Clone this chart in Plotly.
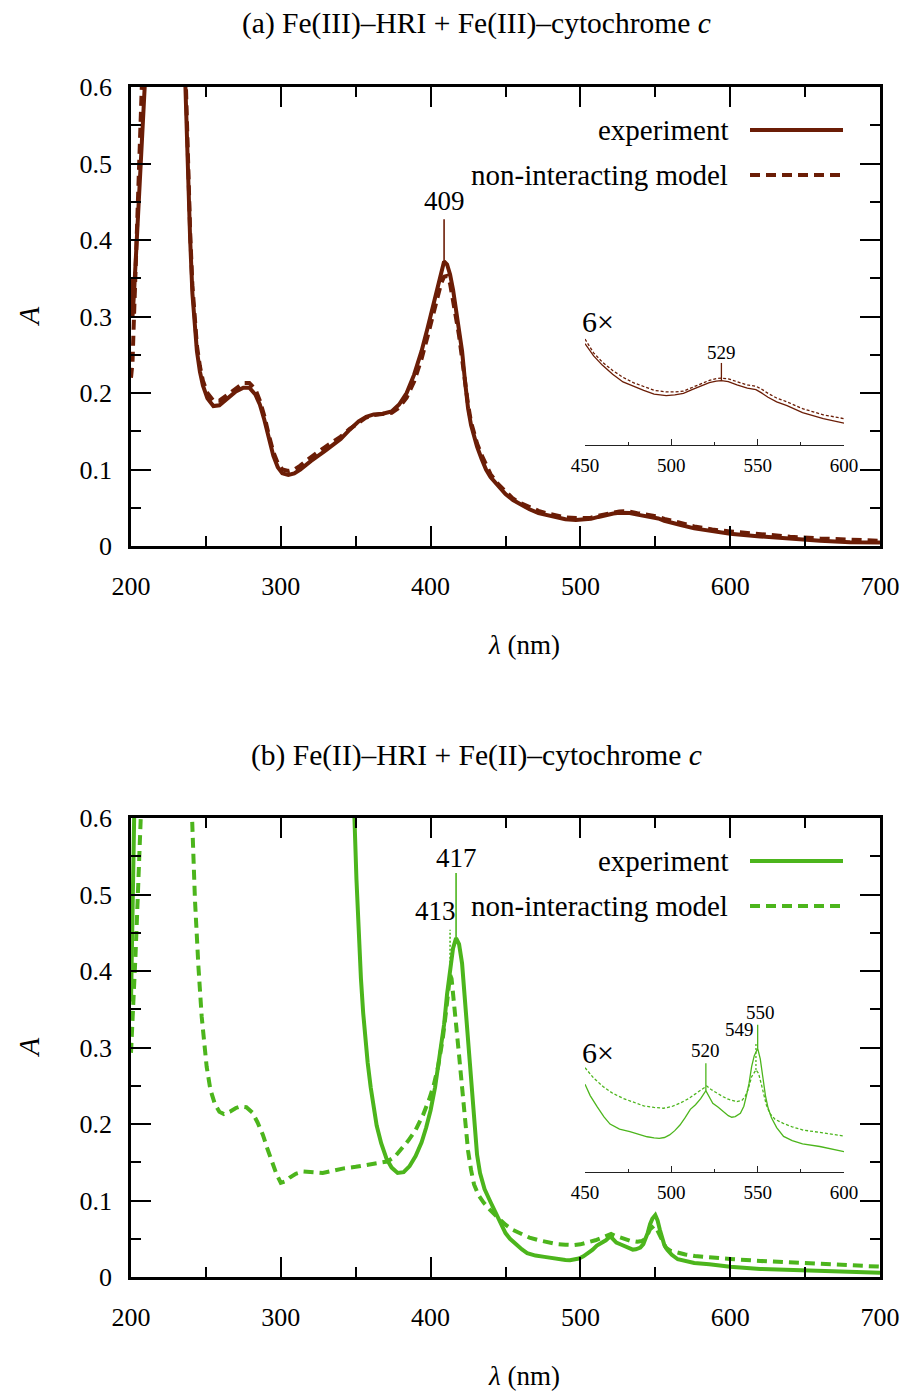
import numpy as np
import plotly.graph_objects as go

W, H = 902, 1391

# ---------------- panel (a): Fe(III) ----------------
wl_a = [200, 201, 202, 203, 204, 205, 206, 207, 208, 210, 215, 220, 225, 230, 234,
        236, 237, 238, 239.5, 241, 242.5, 244, 246, 248, 251, 255, 259, 264, 270,
        275, 279, 283, 286, 289, 292, 295, 298, 301, 305, 309, 313, 320, 330, 340,
        346, 352, 357, 362, 368, 374, 379, 384, 389, 394, 398, 402, 405, 407, 409,
        411, 413, 415, 417, 419, 421, 423, 425, 427, 429, 431, 434, 437, 440, 445,
        450, 455, 460, 466, 472, 478, 484, 490, 497, 502, 507, 512, 517, 522, 526,
        529, 533, 538, 544, 549, 552, 556, 561, 567, 576, 588, 600, 620, 640, 660,
        680, 700]
exp_a = [0.35, 0.30, 0.33, 0.38, 0.43, 0.48, 0.53, 0.58, 0.63, 0.75, 1.0, 1.2, 1.2, 1.0, 0.75,
         0.61, 0.54, 0.47, 0.40, 0.33, 0.285, 0.255, 0.228, 0.21, 0.193, 0.183, 0.184, 0.192, 0.202,
         0.207, 0.207, 0.198, 0.185, 0.165, 0.14, 0.118, 0.103, 0.095, 0.093, 0.095, 0.1, 0.111, 0.125, 0.14,
         0.152, 0.163, 0.169, 0.172, 0.173, 0.176, 0.185, 0.2, 0.224, 0.255, 0.285, 0.318, 0.343, 0.36, 0.372,
         0.368, 0.355, 0.335, 0.31, 0.285, 0.255, 0.215, 0.18, 0.158, 0.142, 0.13, 0.114, 0.1, 0.09, 0.078,
         0.068, 0.06, 0.054, 0.048, 0.043, 0.04, 0.0375, 0.035, 0.034, 0.0345, 0.0355, 0.038, 0.0405, 0.0425, 0.0435,
         0.0438, 0.0432, 0.041, 0.039, 0.038, 0.036, 0.033, 0.03, 0.0275, 0.023, 0.019, 0.016, 0.0125, 0.0095, 0.0068,
         0.005, 0.0045]
mod_a = [0.22, 0.24, 0.30, 0.36, 0.42, 0.48, 0.54, 0.60, 0.66, 0.78, 1.05, 1.25, 1.25, 1.05, 0.78,
         0.63, 0.555, 0.485, 0.41, 0.34, 0.292, 0.262, 0.235, 0.216, 0.2, 0.19, 0.19, 0.197, 0.207,
         0.213, 0.213, 0.205, 0.19, 0.17, 0.145, 0.123, 0.108, 0.1, 0.098, 0.1, 0.105, 0.116, 0.13, 0.143,
         0.153, 0.162, 0.168, 0.171, 0.172, 0.174, 0.181, 0.194, 0.215, 0.245, 0.274, 0.306, 0.329, 0.343, 0.352,
         0.353, 0.343, 0.322, 0.3, 0.275, 0.245, 0.212, 0.185, 0.162, 0.146, 0.134, 0.119, 0.105, 0.094, 0.081,
         0.071, 0.062, 0.056, 0.0505, 0.046, 0.0425, 0.04, 0.0375, 0.0365, 0.0365, 0.037, 0.0395, 0.042, 0.044, 0.0452,
         0.0455, 0.045, 0.043, 0.041, 0.0402, 0.0385, 0.0355, 0.0325, 0.03, 0.0255, 0.0215, 0.019, 0.0152, 0.0122, 0.0098,
         0.0078, 0.0068]

# ---------------- panel (b): Fe(II) ----------------
wl_b_exp = [200, 201, 202, 203, 210, 250, 300, 330, 340, 346, 349, 350.5, 352, 353.5, 355, 356.5,
            358, 360, 362, 364, 367, 370.5, 374, 378, 382, 386, 390, 394, 397, 400, 403, 406,
            409, 411, 413, 415, 417, 419, 421, 423, 425, 427, 429, 431, 433, 436, 440, 443,
            446, 450, 453, 457, 461, 464.5, 470, 476, 481, 486, 490, 493, 496, 499, 502, 505,
            508, 511, 514, 517, 520, 522, 524, 527, 530, 533, 535, 537, 540, 542, 543.5, 545,
            546.5, 548, 550, 551.5, 553, 554.5, 556, 558, 561, 565, 570, 576, 586, 600, 620,
            640, 660, 680, 700]
exp_b = [0.36, 0.52, 0.7, 0.9, 1.5, 2.0, 1.6, 1.0, 0.8, 0.68, 0.61, 0.52, 0.45, 0.39, 0.345, 0.31,
         0.28, 0.248, 0.222, 0.198, 0.175, 0.155, 0.143, 0.136, 0.137, 0.145, 0.158, 0.176, 0.195, 0.218, 0.248, 0.285,
         0.33, 0.37, 0.405, 0.43, 0.443, 0.435, 0.41, 0.36, 0.3, 0.245, 0.198, 0.16, 0.136, 0.115, 0.098, 0.085,
         0.072, 0.0574, 0.05, 0.0427, 0.036, 0.0313, 0.028, 0.0263, 0.0245, 0.023, 0.0222, 0.022, 0.0225, 0.0242, 0.027, 0.0307,
         0.0355, 0.041, 0.044, 0.048, 0.0532, 0.049, 0.045, 0.0425, 0.0398, 0.0368, 0.0358, 0.0362, 0.0384, 0.043, 0.05, 0.058,
         0.069, 0.076, 0.081, 0.074, 0.062, 0.05, 0.042, 0.0355, 0.029, 0.0232, 0.0205, 0.0184, 0.0166, 0.0133, 0.0105,
         0.009, 0.0075, 0.0065, 0.0057]

wl_b_mod = [200, 201, 202, 203, 204, 205, 206, 207, 208, 212, 220, 230, 237, 240.5, 242.7, 245,
            247.2, 250.5, 253, 256, 259, 262, 266, 270, 273, 277, 281, 284.5, 288, 291, 294, 297,
            300, 303, 306, 310, 315, 320, 328, 335, 342, 350, 357, 364, 371, 376, 380, 385,
            390, 395, 399, 402, 405, 408, 410.5, 412, 413, 414, 415.5, 417, 419, 421, 423, 425,
            427, 429, 432, 435.5, 440, 444, 448, 450, 455, 460.6, 466, 472, 478, 484, 490, 495.6,
            500, 505, 510, 514.7, 518, 520.5, 523, 526.3, 530, 533, 538, 541, 542.7, 544.5, 546.5,
            549, 550.5, 552, 553.3, 555, 557, 560, 564.8, 570, 576.4, 588, 600, 620, 640, 660,
            680, 700]
mod_b = [0.293, 0.33, 0.37, 0.42, 0.47, 0.52, 0.56, 0.6, 0.65, 0.9, 1.3, 1.2, 0.8, 0.6, 0.493, 0.406,
         0.34, 0.275, 0.245, 0.226, 0.216, 0.213, 0.216, 0.221, 0.223, 0.222, 0.215, 0.202, 0.186, 0.168, 0.151, 0.135,
         0.123, 0.125, 0.13, 0.135, 0.138, 0.137, 0.136, 0.139, 0.142, 0.144, 0.146, 0.148, 0.151, 0.157, 0.166, 0.178,
         0.192, 0.212, 0.232, 0.25, 0.275, 0.31, 0.35, 0.385, 0.395, 0.39, 0.365, 0.33, 0.29, 0.245, 0.2, 0.165,
         0.14, 0.121, 0.107, 0.097, 0.087, 0.079, 0.072, 0.0683, 0.0615, 0.0558, 0.0515, 0.0482, 0.0455, 0.0432, 0.0422, 0.0417,
         0.0427, 0.045, 0.048, 0.0515, 0.0545, 0.0563, 0.054, 0.0515, 0.0492, 0.0476, 0.046, 0.047, 0.0493, 0.054, 0.0624,
         0.0668, 0.0646, 0.058, 0.0515, 0.044, 0.0384, 0.0345, 0.0318, 0.0295, 0.0274, 0.0253, 0.0235, 0.021, 0.019, 0.017,
         0.015, 0.0135]

# tick values
x_ticks = [200, 300, 400, 500, 600, 700]
y_ticks = [0, 0.1, 0.2, 0.3, 0.4, 0.5, 0.6]
inset_ticks = [450, 500, 550, 600]

BROWN = "#6b1d06"
GREEN = "#4cb51c"
FONT = "Liberation Serif"
TEXT_SIZE = 29


def fx(px):
    return px / W


def fy(py):
    return 1 - py / H


def inset_range(bottom_px, top_px, a_ref, px_ref, px_per_unit):
    lo = a_ref - (bottom_px - px_ref) / px_per_unit
    hi = a_ref + (px_ref - top_px) / px_per_unit
    return [lo, hi]


def window(wl, a, lo=450, hi=600):
    wl = np.asarray(wl, float)
    a = np.asarray(a, float)
    m = (wl >= lo) & (wl <= hi)
    return wl[m], a[m]


def label(text, x, y, size=TEXT_SIZE, **kw):
    d = dict(text=text, x=fx(x), y=fy(y), xref="paper", yref="paper", showarrow=False,
             xanchor="center", yanchor="middle", font=dict(size=size))
    d.update(kw)
    return d


fig = go.Figure()

panels = [
    dict(key="", wl_e=wl_a, e=exp_a, wl_m=wl_a, m=mod_a, color=BROWN,
         top=87, bot=546, ins_key="3", ins_bot=445, ins_top=330,
         ins_ref=(0.0438, 380.7, 1530)),
    dict(key="2", wl_e=wl_b_exp, e=exp_b, wl_m=wl_b_mod, m=mod_b, color=GREEN,
         top=818, bot=1277, ins_key="4", ins_bot=1172, ins_top=1000,
         ins_ref=(0.081, 1048.3, 1525)),
]

for p in panels:
    xa, ya = "x" + p["key"], "y" + p["key"]
    fig.add_trace(go.Scatter(x=p["wl_m"], y=p["m"], mode="lines", xaxis=xa, yaxis=ya,
                             line=dict(color=p["color"], width=4, dash="10px,6px"),
                             showlegend=False, hoverinfo="skip"))
    fig.add_trace(go.Scatter(x=p["wl_e"], y=p["e"], mode="lines", xaxis=xa, yaxis=ya,
                             line=dict(color=p["color"], width=4),
                             showlegend=False, hoverinfo="skip"))
    xi, yi = "x" + p["ins_key"], "y" + p["ins_key"]
    wm, am = window(p["wl_m"], p["m"])
    we, ae = window(p["wl_e"], p["e"])
    fig.add_trace(go.Scatter(x=wm, y=am, mode="lines", xaxis=xi, yaxis=yi,
                             line=dict(color=p["color"], width=1.3, dash="3px,2px"),
                             showlegend=False, hoverinfo="skip"))
    fig.add_trace(go.Scatter(x=we, y=ae, mode="lines", xaxis=xi, yaxis=yi,
                             line=dict(color=p["color"], width=1.3),
                             showlegend=False, hoverinfo="skip"))

main_x = dict(range=[200, 700], tickvals=x_ticks, ticks="inside", ticklen=20, tickwidth=2,
              tickcolor="black", showline=True, linewidth=2.5, linecolor="black", mirror="ticks",
              minor=dict(dtick=50, tick0=0, ticks="inside", ticklen=10, tickwidth=2, tickcolor="black"),
              showgrid=False, zeroline=False, tickfont=dict(family=FONT, size=26, color="black"),
              ticklabelstandoff=15, automargin=False, fixedrange=True)
main_y = dict(range=[0, 0.6], tickvals=y_ticks, ticktext=["0", "0.1", "0.2", "0.3", "0.4", "0.5", "0.6"],
              ticks="inside", ticklen=20, tickwidth=2,
              tickcolor="black", showline=True, linewidth=2.5, linecolor="black", mirror="ticks",
              minor=dict(dtick=0.05, tick0=0, ticks="inside", ticklen=10, tickwidth=2, tickcolor="black"),
              showgrid=False, zeroline=False, tickfont=dict(family=FONT, size=26, color="black"),
              ticklabelstandoff=11, automargin=False, fixedrange=True)
inset_x = dict(range=[450, 600], tickvals=inset_ticks, ticks="inside", ticklen=6, tickwidth=1.3,
               tickcolor="#222", showline=True, linewidth=1.3, linecolor="#222",
               minor=dict(dtick=25, tick0=0, ticks="inside", ticklen=3, tickwidth=1.3, tickcolor="#222"),
               showgrid=False, zeroline=False, tickfont=dict(family=FONT, size=19, color="black"),
               ticklabelstandoff=3, automargin=False, fixedrange=True)

layout = dict(width=W, height=H, margin=dict(l=0, r=0, t=0, b=0), autosize=False,
              paper_bgcolor="white", plot_bgcolor="rgba(0,0,0,0)", template="none",
              font=dict(family=FONT, size=TEXT_SIZE, color="black"), showlegend=False)

shapes = []
annotations = []

for p in panels:
    k, ki = p["key"], p["ins_key"]
    layout["xaxis" + k] = dict(main_x, domain=[fx(131), fx(880)], anchor="y" + k)
    layout["yaxis" + k] = dict(main_y, domain=[fy(p["bot"]), fy(p["top"])], anchor="x" + k)
    layout["xaxis" + ki] = dict(inset_x, domain=[fx(585), fx(844)], anchor="y" + ki)
    layout["yaxis" + ki] = dict(domain=[fy(p["ins_bot"]), fy(p["ins_top"])], anchor="x" + ki,
                                range=inset_range(p["ins_bot"], p["ins_top"], *p["ins_ref"]),
                                visible=False, fixedrange=True)

    # axis titles
    mid_y = (p["top"] + p["bot"]) / 2
    annotations.append(label("<i>A</i>", 28, mid_y, textangle=-90))
    annotations.append(label("<i>λ</i> (nm)", 524, p["bot"] + 99, size=27))
    # legend
    for name, ly, dash in [("experiment", p["top"] + 43, "solid"),
                           ("non-interacting model", p["top"] + 88, "10px,6px")]:
        annotations.append(label(name, 730, ly, xanchor="right"))
        shapes.append(dict(type="line", xref="paper", yref="paper", x0=fx(750), x1=fx(843),
                           y0=fy(ly), y1=fy(ly), line=dict(color=p["color"], width=4, dash=dash)))
    # magnification note for the inset
    annotations.append(label("6×", 598, p["top"] + 234, size=30))

# panel titles
annotations.append(label("(a) Fe(III)–HRI + Fe(III)–cytochrome <i>c</i>", 476, 24, size=29.5))
annotations.append(label("(b) Fe(II)–HRI + Fe(II)–cytochrome <i>c</i>", 476, 755, size=29.5))


def peak_mark(wl, a, at, xr, yr, rise, text_gap, color, dash="solid", size=27, xshift=0, width=1.6):
    base = float(np.interp(at, wl, a))
    shapes.append(dict(type="line", xref=xr, yref=yr, x0=at, x1=at, y0=base, y1=base + rise,
                       line=dict(color=color, width=width, dash=dash)))
    annotations.append(dict(text=str(at), x=at, y=base + rise + text_gap, xref=xr, yref=yr,
                            showarrow=False, xanchor="center", yanchor="bottom", xshift=xshift,
                            font=dict(size=size)))


# panel (a) peaks
peak_mark(wl_a, exp_a, 409, "x", "y", 0.055, 0.002, BROWN)
peak_mark(wl_a, exp_a, 529, "x3", "y3", 0.0116, -0.0012, BROWN, size=19, width=1.3)
# panel (b) peaks
peak_mark(wl_b_exp, exp_b, 417, "x2", "y2", 0.085, -0.002, GREEN)
peak_mark(wl_b_mod, mod_b, 413, "x2", "y2", 0.059, 0.002, GREEN, dash="2px,2px", xshift=-15)
peak_mark(wl_b_exp, exp_b, 520, "x4", "y4", 0.018, 0.0, GREEN, size=19, width=1.3)
peak_mark(wl_b_exp, exp_b, 550, "x4", "y4", 0.0155, 0.0, GREEN, size=19, width=1.3, xshift=3)
peak_mark(wl_b_mod, mod_b, 549, "x4", "y4", 0.0183, 0.0, GREEN, dash="2px,2px", size=19, xshift=-16,
          width=1.3)

layout["shapes"] = shapes
layout["annotations"] = annotations
fig.update_layout(**layout)

fig.write_html("out.html")
